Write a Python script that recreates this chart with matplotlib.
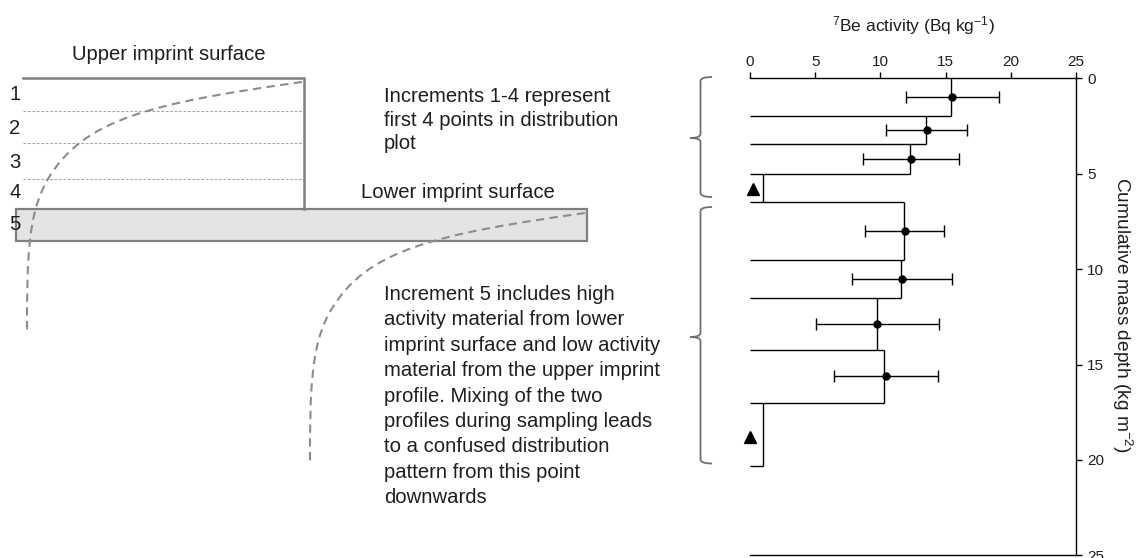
import matplotlib
matplotlib.use('Agg')
import matplotlib.pyplot as plt
from matplotlib.path import Path
from matplotlib.patches import PathPatch, Rectangle

plt.rcParams['font.family'] = ['Liberation Sans', 'DejaVu Sans']
plt.rcParams['mathtext.fontset'] = 'custom'
plt.rcParams['mathtext.rm'] = 'Liberation Sans'
plt.rcParams['mathtext.it'] = 'Liberation Sans'

# ---------------- data ----------------
depth_edges = [0, 2.0, 3.45, 5.0, 6.5, 9.5, 11.5, 14.25, 17.0, 20.3]
activity = [15.4, 13.5, 12.3, 1.0, 11.8, 11.6, 9.75, 10.3, 1.0]
point_depth = [1.0, 2.72, 4.22, 8.0, 10.5, 12.9, 15.6]
point_activity = [15.5, 13.55, 12.35, 11.85, 11.65, 9.75, 10.4]
point_err = [3.55, 3.1, 3.7, 3.0, 3.8, 4.7, 4.0]
bdl_depth = [5.8, 18.8]
bdl_activity = [0.25, 0.0]
x_ticks = [0, 5, 10, 15, 20, 25]
y_ticks = [0, 5, 10, 15, 20, 25]
increment_labels = ['1', '2', '3', '4', '5']

W, H = 1143, 558
fig = plt.figure(figsize=(W / 100, H / 100), dpi=100)

# ---------------- schematic (pixel coordinates) ----------------
bg = fig.add_axes([0, 0, 1, 1])
bg.set_xlim(0, W)
bg.set_ylim(H, 0)
bg.axis('off')

GREY = '#7f7f7f'
FS = 14.6
TXT = '#1e1e1e'

# lower imprint surface (grey band)
bg.add_patch(Rectangle((15.7, 209.3), 587.3 - 15.7, 240.7 - 209.3,
                       facecolor='#e4e4e4', edgecolor=GREY, lw=1.6, zorder=2))
# upper imprint box
bg.plot([22.7, 304, 304], [78.3, 78.3, 209.3], color=GREY, lw=1.8,
        solid_joinstyle='miter', zorder=3)
for yy in [110.7, 142.7, 179.3]:
    bg.plot([22.7, 302], [yy, yy], color='#a8a8a8', lw=0.8,
            linestyle=(0, (2.5, 1.5)), zorder=2)

for lab, yy in zip(increment_labels, [95, 129, 162, 193, 225]):
    bg.text(15, yy, lab, fontsize=FS, ha='center', va='center', color=TXT)

bg.text(169, 55, 'Upper imprint surface', fontsize=FS, ha='center', va='center',
        color=TXT)
bg.text(361, 192, 'Lower imprint surface', fontsize=FS, ha='left', va='center',
        color=TXT)

# dashed activity profiles (same shape, shifted)
def profile(dx, dy):
    verts = [(302, 82), (152, 103), (83.4, 119), (48, 179),
             (27.4, 214), (27, 260), (27, 333)]
    verts = [(x + dx, y + dy) for x, y in verts]
    codes = [Path.MOVETO] + [Path.CURVE4] * 6
    bg.add_patch(PathPatch(Path(verts, codes), facecolor='none', edgecolor='#8c8c8c',
                           lw=1.5, linestyle=(0, (4, 2.6)), zorder=4))

profile(0, 0)
profile(283, 131)

bg.text(384, 120, 'Increments 1-4 represent\nfirst 4 points in distribution\nplot',
        fontsize=FS, ha='left', va='center', linespacing=1.32, color=TXT)
bg.text(384, 396,
        'Increment 5 includes high\nactivity material from lower\n'
        'imprint surface and low activity\nmaterial from the upper imprint\n'
        'profile. Mixing of the two\nprofiles during sampling leads\n'
        'to a confused distribution\npattern from this point\ndownwards',
        fontsize=FS, ha='left', va='center', linespacing=1.43, color=TXT)

# braces
def brace(y0, ym, y1, xs=700.5, xe=712, xc=690, r=4):
    verts = [(xe, y0), (xs, y0), (xs, y0 + r),
             (xs, ym - r), (xs, ym), (xc, ym),
             (xs, ym), (xs, ym + r),
             (xs, y1 - r), (xs, y1), (xe, y1)]
    codes = [Path.MOVETO, Path.CURVE3, Path.CURVE3,
             Path.LINETO, Path.CURVE3, Path.CURVE3,
             Path.CURVE3, Path.CURVE3,
             Path.LINETO, Path.CURVE3, Path.CURVE3]
    bg.add_patch(PathPatch(Path(verts, codes), facecolor='none', edgecolor='#6f6f6f',
                           lw=1.3))

brace(77, 138, 197)
brace(207, 337, 463.5)

# ---------------- distribution plot ----------------
x0, x1 = 750, 1076.2
y0, y1 = 78.3, 555.3
ax = fig.add_axes([x0 / W, (H - y1) / H, (x1 - x0) / W, (y1 - y0) / H])
ax.set_facecolor('none')
ax.set_xlim(0, 25)
ax.set_ylim(25, 0)

n = len(activity)
for i in range(n):
    ax.vlines(activity[i], depth_edges[i], depth_edges[i + 1], color='black', lw=1.0)
for i in range(1, n + 1):
    right = activity[i - 1] if i == n else max(activity[i - 1], activity[i])
    ax.hlines(depth_edges[i], 0, right, color='black', lw=1.0)

ax.errorbar(point_activity, point_depth, xerr=point_err, fmt='o', color='black',
            ms=5, capsize=4, elinewidth=1.0, capthick=1.0, zorder=5)
ax.plot(bdl_activity, bdl_depth, '^', color='black', ms=8.5, clip_on=False, zorder=5)

for s in ['top', 'right', 'bottom']:
    ax.spines[s].set_linewidth(1.0)
ax.spines['left'].set_visible(False)

ax.xaxis.tick_top()
ax.yaxis.tick_right()
ax.set_xticks(x_ticks)
ax.set_yticks(y_ticks)
ax.tick_params(axis='x', top=True, bottom=False, labeltop=True, labelbottom=False,
               length=4, width=1.0, pad=3, labelsize=11, colors='black')
ax.tick_params(axis='y', right=True, left=False, labelright=True, labelleft=False,
               length=4, width=1.0, pad=4, labelsize=11, colors='black')
ax.tick_params(axis='x', labelcolor=TXT)
ax.tick_params(axis='y', labelcolor=TXT)

ax.xaxis.set_label_position('top')
ax.set_xlabel(r'$\mathregular{^7}$Be activity (Bq kg$\mathregular{^{-1}}$)',
              fontsize=12.5, color=TXT, va='center')
ax.xaxis.set_label_coords(0.5, 1 + (y0 - 26) / (y1 - y0))
ax.yaxis.set_label_position('right')
ax.set_ylabel(r'Cumulative mass depth (kg m$\mathregular{^{-2}}$)', fontsize=13.8,
              rotation=270, va='center', ha='center', color=TXT)
ax.yaxis.set_label_coords((1122 - x0) / (x1 - x0), 0.5 + (316.7 - 315) / (y1 - y0))

fig.savefig('out.png', dpi=100)
